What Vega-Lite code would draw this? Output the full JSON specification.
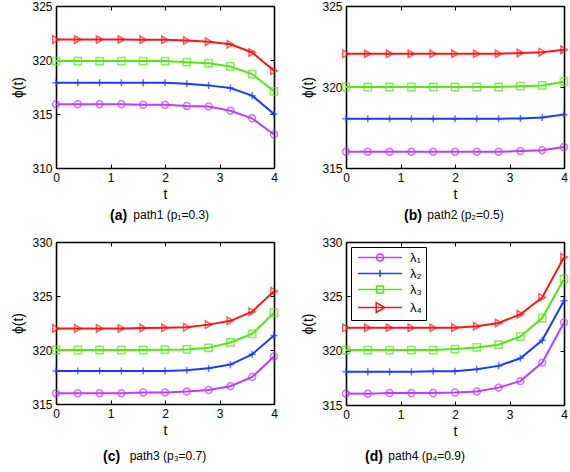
{
  "$schema": "https://vega.github.io/schema/vega-lite/v6.json",
  "padding": {"left": 11, "top": 0, "right": 0, "bottom": 0},
  "background": "white",
  "data": {"values": [
    {"p":"a","s":"λ₁","t":0,"v":315.9},{"p":"a","s":"λ₁","t":0.4,"v":315.9},{"p":"a","s":"λ₁","t":0.8,"v":315.9},{"p":"a","s":"λ₁","t":1.2,"v":315.9},{"p":"a","s":"λ₁","t":1.6,"v":315.85},{"p":"a","s":"λ₁","t":2,"v":315.85},{"p":"a","s":"λ₁","t":2.4,"v":315.75},{"p":"a","s":"λ₁","t":2.8,"v":315.7},{"p":"a","s":"λ₁","t":3.2,"v":315.3},{"p":"a","s":"λ₁","t":3.6,"v":314.6},{"p":"a","s":"λ₁","t":4,"v":313.1},
    {"p":"a","s":"λ₂","t":0,"v":317.9},{"p":"a","s":"λ₂","t":0.4,"v":317.9},{"p":"a","s":"λ₂","t":0.8,"v":317.9},{"p":"a","s":"λ₂","t":1.2,"v":317.9},{"p":"a","s":"λ₂","t":1.6,"v":317.9},{"p":"a","s":"λ₂","t":2,"v":317.9},{"p":"a","s":"λ₂","t":2.4,"v":317.8},{"p":"a","s":"λ₂","t":2.8,"v":317.65},{"p":"a","s":"λ₂","t":3.2,"v":317.4},{"p":"a","s":"λ₂","t":3.6,"v":316.7},{"p":"a","s":"λ₂","t":4,"v":315.0},
    {"p":"a","s":"λ₃","t":0,"v":319.9},{"p":"a","s":"λ₃","t":0.4,"v":319.9},{"p":"a","s":"λ₃","t":0.8,"v":319.9},{"p":"a","s":"λ₃","t":1.2,"v":319.9},{"p":"a","s":"λ₃","t":1.6,"v":319.9},{"p":"a","s":"λ₃","t":2,"v":319.9},{"p":"a","s":"λ₃","t":2.4,"v":319.8},{"p":"a","s":"λ₃","t":2.8,"v":319.7},{"p":"a","s":"λ₃","t":3.2,"v":319.4},{"p":"a","s":"λ₃","t":3.6,"v":318.7},{"p":"a","s":"λ₃","t":4,"v":317.1},
    {"p":"a","s":"λ₄","t":0,"v":321.9},{"p":"a","s":"λ₄","t":0.4,"v":321.9},{"p":"a","s":"λ₄","t":0.8,"v":321.9},{"p":"a","s":"λ₄","t":1.2,"v":321.9},{"p":"a","s":"λ₄","t":1.6,"v":321.88},{"p":"a","s":"λ₄","t":2,"v":321.87},{"p":"a","s":"λ₄","t":2.4,"v":321.8},{"p":"a","s":"λ₄","t":2.8,"v":321.7},{"p":"a","s":"λ₄","t":3.2,"v":321.45},{"p":"a","s":"λ₄","t":3.6,"v":320.7},{"p":"a","s":"λ₄","t":4,"v":319.0},
    {"p":"b","s":"λ₁","t":0,"v":316.0},{"p":"b","s":"λ₁","t":0.4,"v":316.0},{"p":"b","s":"λ₁","t":0.8,"v":316.0},{"p":"b","s":"λ₁","t":1.2,"v":316.0},{"p":"b","s":"λ₁","t":1.6,"v":316.0},{"p":"b","s":"λ₁","t":2,"v":316.0},{"p":"b","s":"λ₁","t":2.4,"v":316.0},{"p":"b","s":"λ₁","t":2.8,"v":316.0},{"p":"b","s":"λ₁","t":3.2,"v":316.05},{"p":"b","s":"λ₁","t":3.6,"v":316.1},{"p":"b","s":"λ₁","t":4,"v":316.3},
    {"p":"b","s":"λ₂","t":0,"v":318.04},{"p":"b","s":"λ₂","t":0.4,"v":318.04},{"p":"b","s":"λ₂","t":0.8,"v":318.04},{"p":"b","s":"λ₂","t":1.2,"v":318.04},{"p":"b","s":"λ₂","t":1.6,"v":318.04},{"p":"b","s":"λ₂","t":2,"v":318.04},{"p":"b","s":"λ₂","t":2.4,"v":318.04},{"p":"b","s":"λ₂","t":2.8,"v":318.04},{"p":"b","s":"λ₂","t":3.2,"v":318.06},{"p":"b","s":"λ₂","t":3.6,"v":318.12},{"p":"b","s":"λ₂","t":4,"v":318.3},
    {"p":"b","s":"λ₃","t":0,"v":320.0},{"p":"b","s":"λ₃","t":0.4,"v":320.0},{"p":"b","s":"λ₃","t":0.8,"v":320.0},{"p":"b","s":"λ₃","t":1.2,"v":320.0},{"p":"b","s":"λ₃","t":1.6,"v":320.0},{"p":"b","s":"λ₃","t":2,"v":320.0},{"p":"b","s":"λ₃","t":2.4,"v":320.0},{"p":"b","s":"λ₃","t":2.8,"v":320.0},{"p":"b","s":"λ₃","t":3.2,"v":320.05},{"p":"b","s":"λ₃","t":3.6,"v":320.1},{"p":"b","s":"λ₃","t":4,"v":320.33},
    {"p":"b","s":"λ₄","t":0,"v":322.05},{"p":"b","s":"λ₄","t":0.4,"v":322.05},{"p":"b","s":"λ₄","t":0.8,"v":322.05},{"p":"b","s":"λ₄","t":1.2,"v":322.05},{"p":"b","s":"λ₄","t":1.6,"v":322.05},{"p":"b","s":"λ₄","t":2,"v":322.05},{"p":"b","s":"λ₄","t":2.4,"v":322.05},{"p":"b","s":"λ₄","t":2.8,"v":322.05},{"p":"b","s":"λ₄","t":3.2,"v":322.1},{"p":"b","s":"λ₄","t":3.6,"v":322.15},{"p":"b","s":"λ₄","t":4,"v":322.3},
    {"p":"c","s":"λ₁","t":0,"v":316.0},{"p":"c","s":"λ₁","t":0.4,"v":316.0},{"p":"c","s":"λ₁","t":0.8,"v":316.0},{"p":"c","s":"λ₁","t":1.2,"v":316.0},{"p":"c","s":"λ₁","t":1.6,"v":316.07},{"p":"c","s":"λ₁","t":2,"v":316.07},{"p":"c","s":"λ₁","t":2.4,"v":316.15},{"p":"c","s":"λ₁","t":2.8,"v":316.3},{"p":"c","s":"λ₁","t":3.2,"v":316.65},{"p":"c","s":"λ₁","t":3.6,"v":317.5},{"p":"c","s":"λ₁","t":4,"v":319.4},
    {"p":"c","s":"λ₂","t":0,"v":318.05},{"p":"c","s":"λ₂","t":0.4,"v":318.05},{"p":"c","s":"λ₂","t":0.8,"v":318.05},{"p":"c","s":"λ₂","t":1.2,"v":318.05},{"p":"c","s":"λ₂","t":1.6,"v":318.05},{"p":"c","s":"λ₂","t":2,"v":318.05},{"p":"c","s":"λ₂","t":2.4,"v":318.12},{"p":"c","s":"λ₂","t":2.8,"v":318.3},{"p":"c","s":"λ₂","t":3.2,"v":318.65},{"p":"c","s":"λ₂","t":3.6,"v":319.6},{"p":"c","s":"λ₂","t":4,"v":321.35},
    {"p":"c","s":"λ₃","t":0,"v":320.0},{"p":"c","s":"λ₃","t":0.4,"v":320.0},{"p":"c","s":"λ₃","t":0.8,"v":320.0},{"p":"c","s":"λ₃","t":1.2,"v":320.0},{"p":"c","s":"λ₃","t":1.6,"v":320.0},{"p":"c","s":"λ₃","t":2,"v":320.03},{"p":"c","s":"λ₃","t":2.4,"v":320.05},{"p":"c","s":"λ₃","t":2.8,"v":320.2},{"p":"c","s":"λ₃","t":3.2,"v":320.7},{"p":"c","s":"λ₃","t":3.6,"v":321.5},{"p":"c","s":"λ₃","t":4,"v":323.45},
    {"p":"c","s":"λ₄","t":0,"v":322.0},{"p":"c","s":"λ₄","t":0.4,"v":322.0},{"p":"c","s":"λ₄","t":0.8,"v":322.0},{"p":"c","s":"λ₄","t":1.2,"v":322.0},{"p":"c","s":"λ₄","t":1.6,"v":322.03},{"p":"c","s":"λ₄","t":2,"v":322.05},{"p":"c","s":"λ₄","t":2.4,"v":322.1},{"p":"c","s":"λ₄","t":2.8,"v":322.35},{"p":"c","s":"λ₄","t":3.2,"v":322.7},{"p":"c","s":"λ₄","t":3.6,"v":323.55},{"p":"c","s":"λ₄","t":4,"v":325.45},
    {"p":"d","s":"λ₁","t":0,"v":316.05},{"p":"d","s":"λ₁","t":0.4,"v":316.03},{"p":"d","s":"λ₁","t":0.8,"v":316.1},{"p":"d","s":"λ₁","t":1.2,"v":316.1},{"p":"d","s":"λ₁","t":1.6,"v":316.1},{"p":"d","s":"λ₁","t":2,"v":316.15},{"p":"d","s":"λ₁","t":2.4,"v":316.25},{"p":"d","s":"λ₁","t":2.8,"v":316.6},{"p":"d","s":"λ₁","t":3.2,"v":317.2},{"p":"d","s":"λ₁","t":3.6,"v":318.9},{"p":"d","s":"λ₁","t":4,"v":322.6},
    {"p":"d","s":"λ₂","t":0,"v":318.05},{"p":"d","s":"λ₂","t":0.4,"v":318.05},{"p":"d","s":"λ₂","t":0.8,"v":318.05},{"p":"d","s":"λ₂","t":1.2,"v":318.05},{"p":"d","s":"λ₂","t":1.6,"v":318.1},{"p":"d","s":"λ₂","t":2,"v":318.1},{"p":"d","s":"λ₂","t":2.4,"v":318.3},{"p":"d","s":"λ₂","t":2.8,"v":318.6},{"p":"d","s":"λ₂","t":3.2,"v":319.3},{"p":"d","s":"λ₂","t":3.6,"v":320.95},{"p":"d","s":"λ₂","t":4,"v":324.6},
    {"p":"d","s":"λ₃","t":0,"v":320.05},{"p":"d","s":"λ₃","t":0.4,"v":320.05},{"p":"d","s":"λ₃","t":0.8,"v":320.05},{"p":"d","s":"λ₃","t":1.2,"v":320.05},{"p":"d","s":"λ₃","t":1.6,"v":320.05},{"p":"d","s":"λ₃","t":2,"v":320.15},{"p":"d","s":"λ₃","t":2.4,"v":320.3},{"p":"d","s":"λ₃","t":2.8,"v":320.55},{"p":"d","s":"λ₃","t":3.2,"v":321.3},{"p":"d","s":"λ₃","t":3.6,"v":323.0},{"p":"d","s":"λ₃","t":4,"v":326.6},
    {"p":"d","s":"λ₄","t":0,"v":322.1},{"p":"d","s":"λ₄","t":0.4,"v":322.1},{"p":"d","s":"λ₄","t":0.8,"v":322.1},{"p":"d","s":"λ₄","t":1.2,"v":322.1},{"p":"d","s":"λ₄","t":1.6,"v":322.1},{"p":"d","s":"λ₄","t":2,"v":322.12},{"p":"d","s":"λ₄","t":2.4,"v":322.25},{"p":"d","s":"λ₄","t":2.8,"v":322.55},{"p":"d","s":"λ₄","t":3.2,"v":323.35},{"p":"d","s":"λ₄","t":3.6,"v":324.9},{"p":"d","s":"λ₄","t":4,"v":328.6}
  ]},
  "config": {
    "font": "Liberation Sans",
    "view": {"stroke": null},
    "axis": {"domain": true, "domainColor": "black", "domainWidth": 1.6, "grid": false, "tickColor": "black", "tickWidth": 1, "tickSize": -4, "labelPadding": 8, "labelFont": "Liberation Sans", "labelFontSize": 12, "labelColor": "black", "labelFlush": false, "titleFont": "Liberation Sans", "titleFontSize": 14, "titleFontWeight": "normal", "titleColor": "black"},
    "title": {"orient": "bottom", "anchor": "start", "frame": "group", "font": "Liberation Sans", "fontSize": 14, "fontWeight": "bold", "color": "black", "subtitleFont": "Liberation Sans", "subtitleFontSize": 12, "subtitleColor": "black", "subtitlePadding": -13, "offset": 8},
    "line": {"strokeWidth": 2},
    "point": {"filled": false, "strokeWidth": 1.5}
  },
  "resolve": {"scale": {"color": "independent", "shape": "independent", "size": "independent"}, "legend": {"color": "independent", "shape": "independent", "size": "independent"}},
  "spacing": 13,
  "vconcat": [
    {
      "hconcat": [
        {
          "width": 218, "height": 162,
          "transform": [{"filter": "datum.p === 'a'"}],
          "title": {"text": "(a)", "subtitle": "\u200b\u00a0\u00a0\u00a0\u00a0\u00a0\u00a0\u00a0path1 (p₁=0.3)", "dx": 54},
          "encoding": {
            "x": {"field": "t", "type": "quantitative", "scale": {"domain": [0, 4], "nice": false}, "axis": {"values": [0, 1, 2, 3, 4], "title": "t", "titlePadding": 4}},
            "y": {"field": "v", "type": "quantitative", "scale": {"domain": [310, 325], "nice": false, "zero": false}, "axis": {"values": [310, 315, 320, 325], "title": "ϕ(t)", "titlePadding": 6}}
          },
          "layer": [
            {"layer": [
              {"mark": "point", "encoding": {
                "color": {"field": "s", "type": "nominal", "scale": {"domain": ["λ₁", "λ₂", "λ₃", "λ₄"], "range": ["#BE3CFA", "#1A3CFF", "#55E614", "#FF1414"]}, "legend": null},
                "shape": {"field": "s", "type": "nominal", "scale": {"domain": ["λ₁", "λ₂", "λ₃", "λ₄"], "range": ["circle", "M-1,0H1M0,-1V1", "square", "triangle-right"]}, "legend": null},
                "size": {"field": "s", "type": "nominal", "scale": {"domain": ["λ₁", "λ₂", "λ₃", "λ₄"], "range": [48, 55, 40, 85]}, "legend": null}
              }},
              {"mark": "line", "encoding": {"color": {"field": "s", "type": "nominal", "scale": {"domain": ["λ₁", "λ₂", "λ₃", "λ₄"], "range": ["#BE3CFA", "#1A3CFF", "#55E614", "#FF1414"]}, "legend": null}}}
            ]},
            {"mark": {"type": "point", "opacity": 0}, "encoding": {
              "x": {"field": "t", "type": "quantitative", "axis": {"orient": "top", "values": [0, 1, 2, 3, 4], "labels": false, "title": null}},
              "y": {"field": "v", "type": "quantitative", "axis": {"orient": "right", "values": [310, 315, 320, 325], "labels": false, "title": null}}
            }}
          ],
          "resolve": {"axis": {"x": "independent", "y": "independent"}}
        },
        {
          "width": 218, "height": 162,
          "transform": [{"filter": "datum.p === 'b'"}],
          "title": {"text": "(b)", "subtitle": "\u200b\u00a0\u00a0\u00a0\u00a0\u00a0\u00a0\u00a0path2 (p₂=0.5)", "dx": 58},
          "encoding": {
            "x": {"field": "t", "type": "quantitative", "scale": {"domain": [0, 4], "nice": false}, "axis": {"values": [0, 1, 2, 3, 4], "title": "t", "titlePadding": 4}},
            "y": {"field": "v", "type": "quantitative", "scale": {"domain": [315, 325], "nice": false, "zero": false}, "axis": {"values": [315, 320, 325], "title": "ϕ(t)", "titlePadding": 6}}
          },
          "layer": [
            {"layer": [
              {"mark": "point", "encoding": {
                "color": {"field": "s", "type": "nominal", "scale": {"domain": ["λ₁", "λ₂", "λ₃", "λ₄"], "range": ["#BE3CFA", "#1A3CFF", "#55E614", "#FF1414"]}, "legend": null},
                "shape": {"field": "s", "type": "nominal", "scale": {"domain": ["λ₁", "λ₂", "λ₃", "λ₄"], "range": ["circle", "M-1,0H1M0,-1V1", "square", "triangle-right"]}, "legend": null},
                "size": {"field": "s", "type": "nominal", "scale": {"domain": ["λ₁", "λ₂", "λ₃", "λ₄"], "range": [48, 55, 40, 85]}, "legend": null}
              }},
              {"mark": "line", "encoding": {"color": {"field": "s", "type": "nominal", "scale": {"domain": ["λ₁", "λ₂", "λ₃", "λ₄"], "range": ["#BE3CFA", "#1A3CFF", "#55E614", "#FF1414"]}, "legend": null}}}
            ]},
            {"mark": {"type": "point", "opacity": 0}, "encoding": {
              "x": {"field": "t", "type": "quantitative", "axis": {"orient": "top", "values": [0, 1, 2, 3, 4], "labels": false, "title": null}},
              "y": {"field": "v", "type": "quantitative", "axis": {"orient": "right", "values": [315, 320, 325], "labels": false, "title": null}}
            }}
          ],
          "resolve": {"axis": {"x": "independent", "y": "independent"}}
        }
      ],
      "spacing": 20,
      "resolve": {"scale": {"color": "independent", "shape": "independent", "size": "independent"}, "legend": {"color": "independent", "shape": "independent", "size": "independent"}}
    },
    {
      "hconcat": [
        {
          "width": 218, "height": 162,
          "transform": [{"filter": "datum.p === 'c'"}],
          "title": {"text": "(c)", "subtitle": "\u200b\u00a0\u00a0\u00a0\u00a0\u00a0\u00a0\u00a0\u00a0path3 (p₃=0.7)", "dx": 47, "offset": 13},
          "encoding": {
            "x": {"field": "t", "type": "quantitative", "scale": {"domain": [0, 4], "nice": false}, "axis": {"values": [0, 1, 2, 3, 4], "title": "t", "titlePadding": 4}},
            "y": {"field": "v", "type": "quantitative", "scale": {"domain": [315, 330], "nice": false, "zero": false}, "axis": {"values": [315, 320, 325, 330], "title": "ϕ(t)", "titlePadding": 6}}
          },
          "layer": [
            {"layer": [
              {"mark": "point", "encoding": {
                "color": {"field": "s", "type": "nominal", "scale": {"domain": ["λ₁", "λ₂", "λ₃", "λ₄"], "range": ["#BE3CFA", "#1A3CFF", "#55E614", "#FF1414"]}, "legend": null},
                "shape": {"field": "s", "type": "nominal", "scale": {"domain": ["λ₁", "λ₂", "λ₃", "λ₄"], "range": ["circle", "M-1,0H1M0,-1V1", "square", "triangle-right"]}, "legend": null},
                "size": {"field": "s", "type": "nominal", "scale": {"domain": ["λ₁", "λ₂", "λ₃", "λ₄"], "range": [48, 55, 40, 85]}, "legend": null}
              }},
              {"mark": "line", "encoding": {"color": {"field": "s", "type": "nominal", "scale": {"domain": ["λ₁", "λ₂", "λ₃", "λ₄"], "range": ["#BE3CFA", "#1A3CFF", "#55E614", "#FF1414"]}, "legend": null}}}
            ]},
            {"mark": {"type": "point", "opacity": 0}, "encoding": {
              "x": {"field": "t", "type": "quantitative", "axis": {"orient": "top", "values": [0, 1, 2, 3, 4], "labels": false, "title": null}},
              "y": {"field": "v", "type": "quantitative", "axis": {"orient": "right", "values": [315, 320, 325, 330], "labels": false, "title": null}}
            }}
          ],
          "resolve": {"axis": {"x": "independent", "y": "independent"}}
        },
        {
          "width": 218, "height": 163,
          "transform": [{"filter": "datum.p === 'd'"}],
          "title": {"text": "(d)", "subtitle": "\u200b\u00a0\u00a0\u00a0\u00a0\u00a0\u00a0\u00a0path4 (p₄=0.9)", "dx": 19, "offset": 12},
          "encoding": {
            "x": {"field": "t", "type": "quantitative", "scale": {"domain": [0, 4], "nice": false}, "axis": {"values": [0, 1, 2, 3, 4], "title": "t", "titlePadding": 4}},
            "y": {"field": "v", "type": "quantitative", "scale": {"domain": [315, 330], "nice": false, "zero": false}, "axis": {"values": [315, 320, 325, 330], "title": "ϕ(t)", "titlePadding": 6}}
          },
          "layer": [
            {"layer": [
              {"mark": "point", "encoding": {
                "color": {"field": "s", "type": "nominal", "scale": {"domain": ["λ₁", "λ₂", "λ₃", "λ₄"], "range": ["#BE3CFA", "#1A3CFF", "#55E614", "#FF1414"]}, "legend": null},
                "shape": {"field": "s", "type": "nominal", "scale": {"domain": ["λ₁", "λ₂", "λ₃", "λ₄"], "range": ["circle", "M-1,0H1M0,-1V1", "square", "triangle-right"]}, "legend": null},
                "size": {"field": "s", "type": "nominal", "scale": {"domain": ["λ₁", "λ₂", "λ₃", "λ₄"], "range": [48, 55, 40, 85]}, "legend": null}
              }},
              {"mark": "line", "encoding": {"color": {"field": "s", "type": "nominal", "scale": {"domain": ["λ₁", "λ₂", "λ₃", "λ₄"], "range": ["#BE3CFA", "#1A3CFF", "#55E614", "#FF1414"]}, "legend": null}}}
            ]},
            {"mark": {"type": "point", "opacity": 0}, "encoding": {
              "x": {"field": "t", "type": "quantitative", "axis": {"orient": "top", "values": [0, 1, 2, 3, 4], "labels": false, "title": null}},
              "y": {"field": "v", "type": "quantitative", "axis": {"orient": "right", "values": [315, 320, 325, 330], "labels": false, "title": null}},
              "color": {"field": "s", "type": "nominal", "scale": {"domain": ["λ₁", "λ₂", "λ₃", "λ₄"], "range": ["#BE3CFA", "#1A3CFF", "#55E614", "#FF1414"]}, "legend": {"orient": "top-left", "offset": 5, "title": null, "strokeColor": "black", "fillColor": "white", "padding": 4, "labelFont": "Liberation Sans", "labelFontSize": 13, "labelColor": "black", "labelOffset": 42, "rowPadding": 2, "symbolStrokeWidth": 1.7, "symbolSize": 49, "symbolOpacity": 1}},
              "shape": {"field": "s", "type": "nominal", "scale": {"domain": ["λ₁", "λ₂", "λ₃", "λ₄"], "range": ["M-1,0H11.6M6.3,0A1,1,0,1,1,4.3,0A1,1,0,1,1,6.3,0", "M-1,0H11.6M5.3,-1V1", "M-1,0H11.6M4.3,-1H6.3V1H4.3Z", "M-1,0H11.6M4.2,-1.4L6.7,0L4.2,1.4Z"]}, "legend": {"orient": "top-left", "offset": 5, "title": null, "strokeColor": "black", "fillColor": "white", "padding": 4, "labelFont": "Liberation Sans", "labelFontSize": 13, "labelColor": "black", "labelOffset": 42, "rowPadding": 2, "symbolStrokeWidth": 1.7, "symbolSize": 49, "symbolOpacity": 1}}
            }}
          ],
          "resolve": {"axis": {"x": "independent", "y": "independent"}, "scale": {"color": "independent", "shape": "independent"}, "legend": {"color": "independent", "shape": "independent"}}
        }
      ],
      "spacing": 20,
      "resolve": {"scale": {"color": "independent", "shape": "independent", "size": "independent"}, "legend": {"color": "independent", "shape": "independent", "size": "independent"}}
    }
  ]
}
